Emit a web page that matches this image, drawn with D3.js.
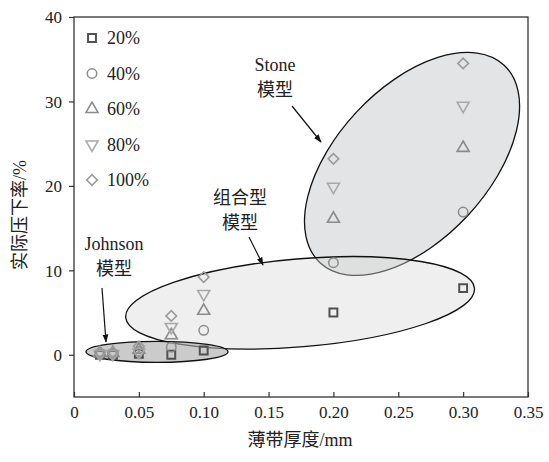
<!DOCTYPE html>
<html>
<head>
<meta charset="utf-8">
<script src="https://cdn.jsdelivr.net/npm/d3@7"></script>
<style>
  html, body { margin: 0; padding: 0; background: #fff; }
  svg text { font-family: "Liberation Serif", "Times New Roman", "Noto Sans CJK SC", serif; fill: #222; }
</style>
</head>
<body>
<svg id="chart" width="549" height="462"></svg>
<script>
// Strip thickness (mm) for each measurement column
const thickness = [0.02, 0.03, 0.05, 0.075, 0.1, 0.2, 0.3];
// Actual reduction (%) for each nominal reduction setting
const r20  = [0.0, 0.0, 0.1, 0.0, 0.5, 5.0, 7.9];
const r40  = [0.1, 0.1, 0.4, 0.9, 2.9, 10.9, 16.9];
const r60  = [0.2, 0.2, 0.6, 2.3, 5.2, 16.1, 24.5];
const r80  = [0.1, 0.1, 0.3, 3.3, 7.2, 19.9, 29.5];
const r100 = [0.3, 0.3, 1.0, 4.6, 9.2, 23.2, 34.5];
const seriesNames = ["20%", "40%", "60%", "80%", "100%"];
const xTicks = [0, 0.05, 0.10, 0.15, 0.20, 0.25, 0.30, 0.35];
const xTickLabels = ["0", "0.05", "0.10", "0.15", "0.20", "0.25", "0.30", "0.35"];
const yTicks = [0, 10, 20, 30, 40];

const svg = d3.select("#chart");
const L = 74, R = 528, T = 17, B = 397;

const x = d3.scaleLinear().domain([0, 0.35]).range([L, R]);
const y = d3.scaleLinear().domain([-5, 40]).range([B, T]);

// Model regions (centre in data units, radii in px, rotation in degrees)
const regions = [
  { cx: 0.2606, cy: 22.6, rx: 135, ry: 76, rot: -47, fill: "#c8cacc", op: 0.5 },
  { cx: 0.1743, cy: 6.15, rx: 175, ry: 44, rot: -4.8, fill: "#d6d8d8", op: 0.4 },
  { cx: 0.0640, cy: 0.35, rx: 71, ry: 10.5, rot: 0, fill: "#a8a8a8", op: 0.6 }
];
const gReg = svg.append("g");
regions.forEach(e => {
  gReg.append("ellipse")
    .attr("transform", `translate(${x(e.cx)},${y(e.cy)}) rotate(${e.rot})`)
    .attr("rx", e.rx).attr("ry", e.ry)
    .attr("fill", e.fill).attr("fill-opacity", e.op)
    .attr("stroke", "#111").attr("stroke-width", 1.3);
});

// Axes
const axisColor = "#333";
const gx = svg.append("g").attr("transform", `translate(0,${B})`)
  .call(d3.axisBottom(x).tickValues(xTicks).tickSizeInner(-5).tickSizeOuter(0)
    .tickFormat((d, i) => xTickLabels[i]));
gx.select(".domain").remove();
gx.selectAll(".tick line").attr("stroke", axisColor).attr("stroke-width", 1.2);
gx.selectAll(".tick text").attr("dy", "0").attr("y", 21)
  .style("font-size", "17px").attr("fill", "#222");

const gy = svg.append("g").attr("transform", `translate(${L},0)`)
  .call(d3.axisLeft(y).tickValues(yTicks).tickSizeInner(5).tickSizeOuter(0));
gy.select(".domain").remove();
gy.selectAll(".tick line").attr("stroke", axisColor).attr("stroke-width", 1.2);
gy.selectAll(".tick text").attr("x", -12).attr("dy", "0.35em")
  .style("font-size", "17px").attr("fill", "#222");

// Frame
svg.append("rect").attr("x", L).attr("y", T).attr("width", R - L).attr("height", B - T)
  .attr("fill", "none").attr("stroke", axisColor).attr("stroke-width", 1.3);

// Axis titles
svg.append("text").attr("x", 300).attr("y", 446).attr("text-anchor", "middle")
  .style("font-size", "18px").text("薄带厚度/mm");
svg.append("text").attr("transform", "translate(26,215) rotate(-90)")
  .attr("text-anchor", "middle").style("font-size", "18px").text("实际压下率/%");

// Marker definitions
const markers = [
  { type: d3.symbolSquare, size: 62, rot: 0, color: "#505050", sw: 2 },
  { type: d3.symbolCircle, size: 70, rot: 0, color: "#8a8a8a", sw: 1.5 },
  { type: d3.symbolTriangle, size: 62, rot: 0, color: "#8a8a8a", sw: 1.6 },
  { type: d3.symbolTriangle, size: 62, rot: 180, color: "#a8a8a8", sw: 1.6 },
  { type: d3.symbolSquare, size: 56, rot: 45, color: "#9a9a9a", sw: 1.6 }
];
const seriesValues = [r20, r40, r60, r80, r100];

const gPts = svg.append("g");
seriesValues.forEach((vals, si) => {
  const m = markers[si];
  const path = d3.symbol().type(m.type).size(m.size)();
  gPts.selectAll(null).data(thickness.map((t, i) => [t, vals[i]])).enter()
    .append("path")
    .attr("d", path)
    .attr("transform", d => `translate(${x(d[0])},${y(d[1])}) rotate(${m.rot})`)
    .attr("fill", "none").attr("stroke", m.color).attr("stroke-width", m.sw);
});

// Legend
const gLeg = svg.append("g");
seriesNames.forEach((name, i) => {
  const m = markers[i];
  const ly = 38 + i * 35.5;
  gLeg.append("path").attr("d", d3.symbol().type(m.type).size(m.size)())
    .attr("transform", `translate(92,${ly}) rotate(${m.rot})`)
    .attr("fill", "none").attr("stroke", m.color).attr("stroke-width", m.sw);
  gLeg.append("text").attr("x", 107).attr("y", ly).attr("dy", "0.35em")
    .style("font-size", "18px").text(name);
});

// Region labels with arrows
svg.append("defs").append("marker").attr("id", "arr")
  .attr("viewBox", "0 0 10 10").attr("refX", 9).attr("refY", 5)
  .attr("markerWidth", 7).attr("markerHeight", 7).attr("orient", "auto")
  .append("path").attr("d", "M0,1.5 L10,5 L0,8.5 Z").attr("fill", "#111");

const notes = [
  { lines: ["Stone", "模型"], x: 275, y: 65, a: [292, 106, 321, 142] },
  { lines: ["组合型", "模型"], x: 240, y: 198, a: [249, 237, 263, 265] },
  { lines: ["Johnson", "模型"], x: 114, y: 244, a: [102, 288, 106, 342] }
];
notes.forEach(n => {
  n.lines.forEach((t, k) => {
    svg.append("text").attr("x", n.x).attr("y", n.y + k * 25).attr("dy", "0.35em")
      .attr("text-anchor", "middle").style("font-size", "18px").text(t);
  });
  svg.append("line").attr("x1", n.a[0]).attr("y1", n.a[1]).attr("x2", n.a[2]).attr("y2", n.a[3])
    .attr("stroke", "#111").attr("stroke-width", 1.2).attr("marker-end", "url(#arr)");
});
</script>
</body>
</html>
